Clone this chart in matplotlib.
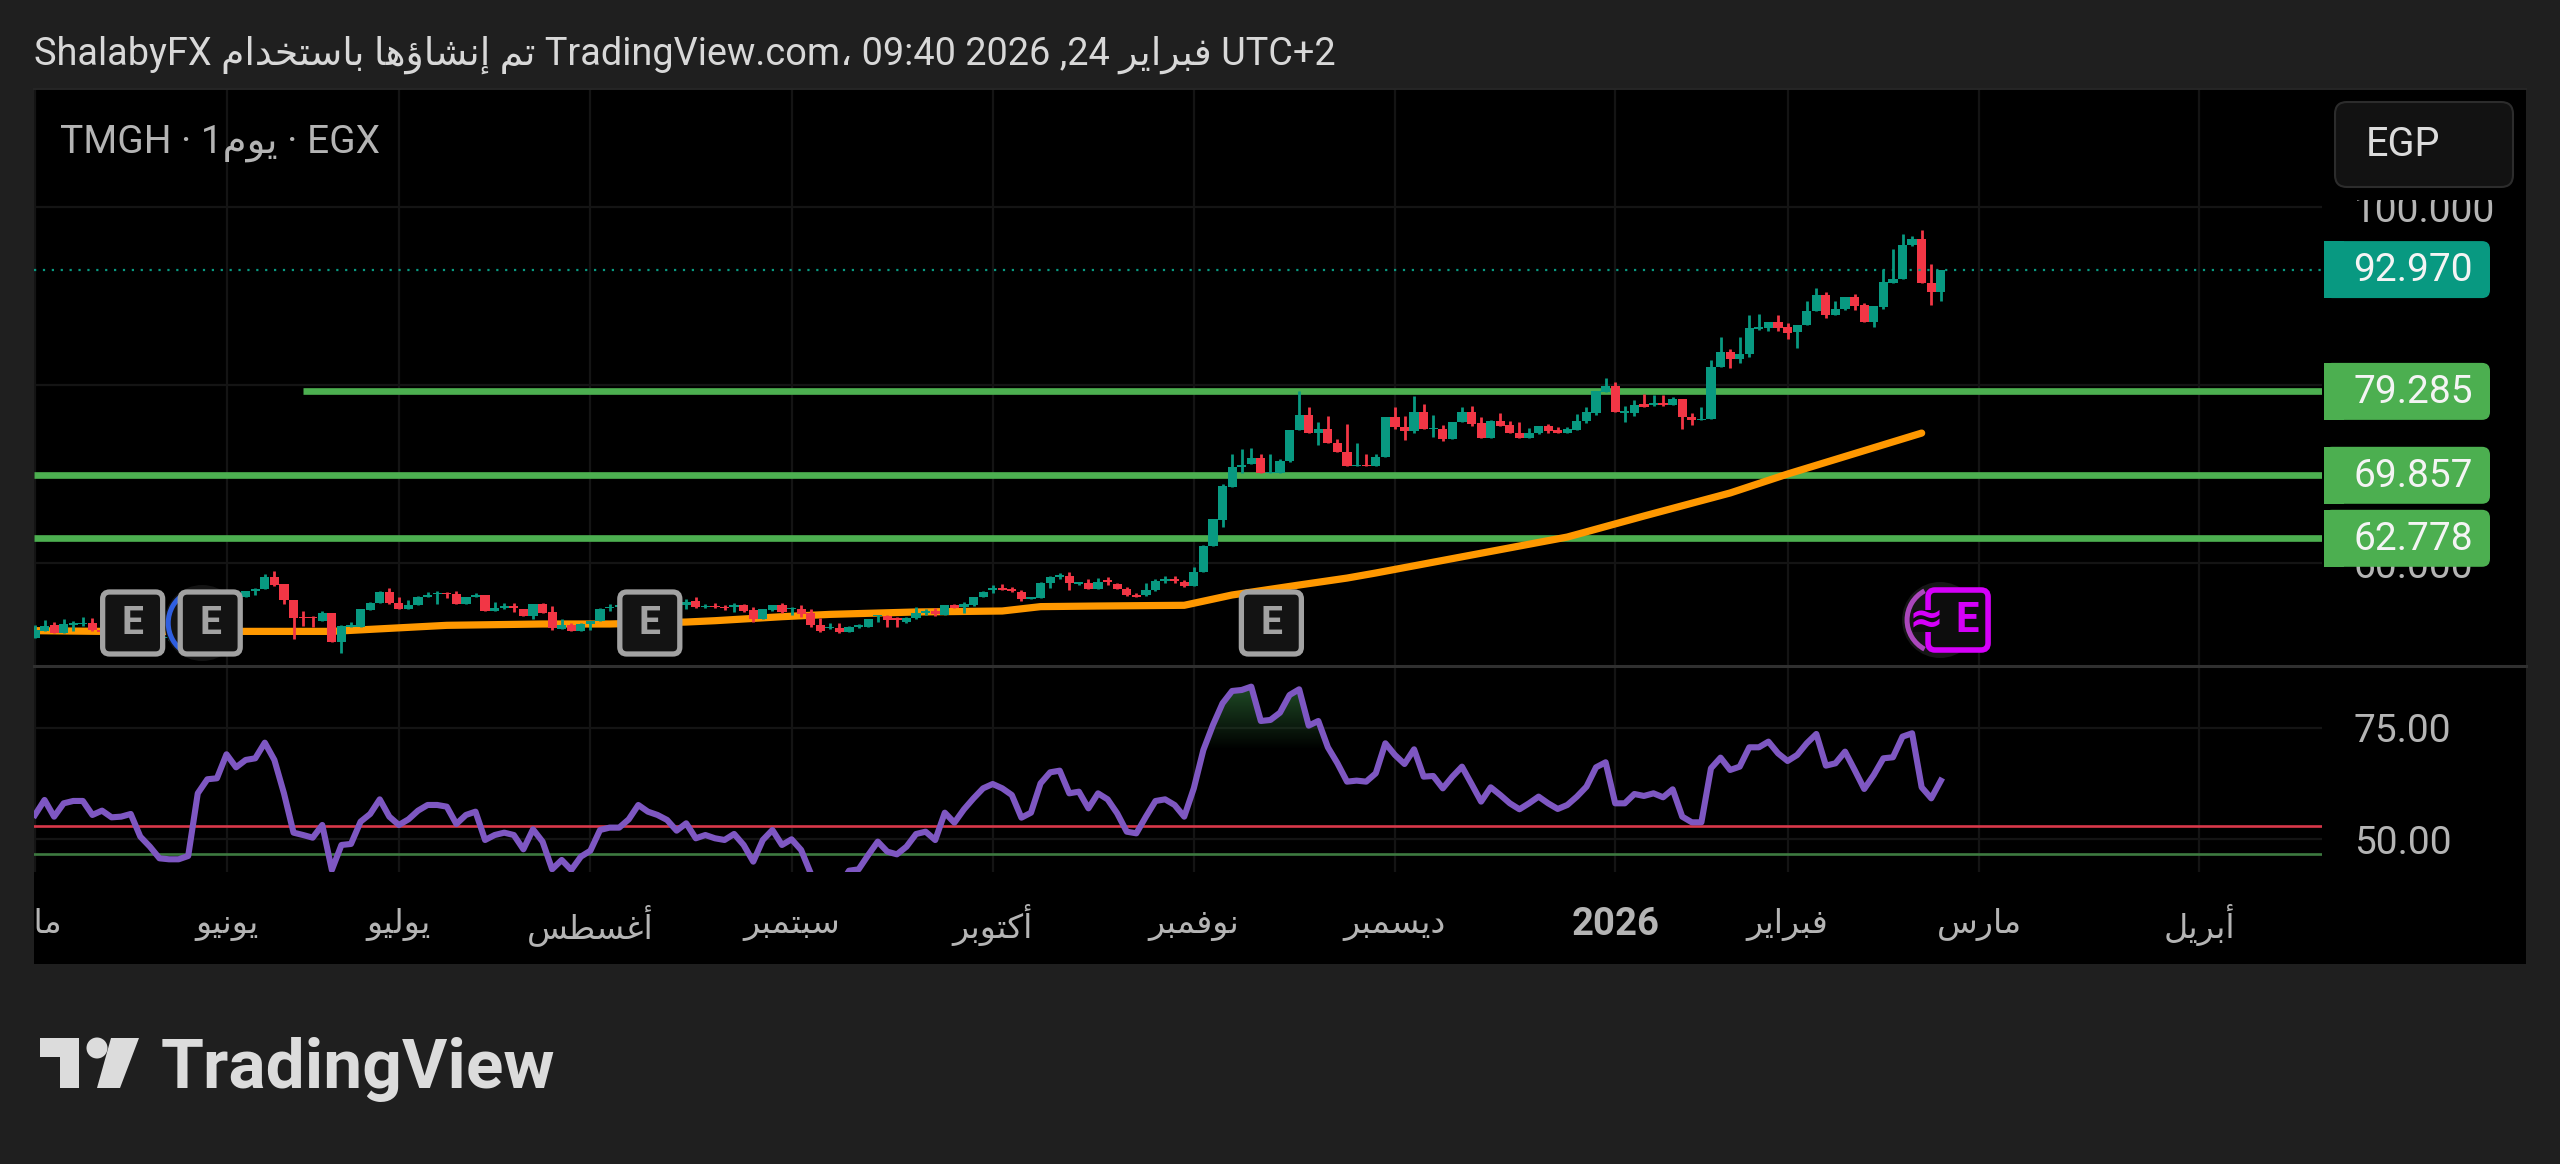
import matplotlib
matplotlib.use('Agg')
import matplotlib.pyplot as plt
from matplotlib.patches import Rectangle, FancyBboxPatch, Arc, Circle, Polygon
import numpy as np

plt.rcParams['font.family'] = ['Roboto', 'DejaVu Sans']

W, H = 2560, 1164
BG = '#1f1f1f'
UP = '#089981'
DOWN = '#F23645'
LEVEL = '#4CAF50'
GRID = '#141414'
AXIS_TXT = '#b4b4b4'

opens = [
    51.54, 52.40, 53.04, 52.17, 52.99, 53.15, 53.30, 52.50, 52.20, 52.00,
    51.70, 51.60, 51.70, 51.60, 51.60, 51.70, 52.60, 54.80, 55.40, 55.20,
    56.10, 56.40, 56.22, 56.89, 57.04, 58.47, 57.64, 55.85, 53.97, 53.90,
    53.52, 54.35, 51.16, 52.85, 52.85, 54.72, 55.55, 56.78, 55.47, 54.83,
    55.28, 56.22, 56.56, 56.67, 56.48, 55.40, 56.22, 56.37, 54.57, 54.98,
    55.17, 54.80, 54.05, 55.40, 54.53, 52.55, 53.04, 52.40, 53.15, 53.52,
    54.91, 55.10, 55.30, 55.20, 55.40, 55.10, 55.40, 55.60, 55.28, 55.77,
    55.02, 55.17, 55.10, 55.10, 55.25, 54.72, 53.75, 54.72, 55.32, 54.80,
    54.87, 54.35, 53.04, 52.70, 52.66, 52.25, 52.85, 52.85, 54.01, 54.05,
    53.79, 53.41, 53.79, 54.35, 54.61, 54.20, 55.32, 55.02, 55.28, 56.15,
    56.97, 57.19, 57.12, 56.78, 55.99, 56.07, 57.72, 58.39, 58.58, 57.64,
    57.72, 57.12, 58.09, 57.64, 57.12, 56.44, 56.37, 56.97, 57.98, 58.17,
    57.87, 57.42, 59.03, 61.91, 64.83, 68.58, 70.75, 71.13, 71.76, 70.08,
    70.15, 71.50, 74.95, 76.63, 74.57, 75.06, 73.45, 72.47, 70.90, 71.01,
    70.90, 71.87, 76.37, 75.32, 74.87, 77.01, 75.02, 75.06, 73.90, 75.88,
    77.01, 75.69, 74.05, 75.99, 75.51, 74.65, 74.05, 74.57, 75.43, 74.95,
    74.57, 74.95, 75.96, 76.89, 79.21, 79.89, 76.82, 76.89, 77.87, 77.75,
    78.02, 77.75, 78.47, 76.44, 76.07, 76.15, 81.99, 83.67, 82.89, 83.49,
    86.33, 86.44, 87.12, 86.48, 85.92, 86.71, 88.35, 90.15, 87.90, 88.50,
    89.93, 88.95, 87.12, 88.73, 91.50, 91.87, 95.69, 96.41, 91.50, 90.41,
]
highs = [
    53.04, 53.60, 53.41, 53.67, 53.52, 53.90, 53.79, 52.80, 52.50, 52.30,
    52.00, 52.00, 51.90, 51.90, 51.95, 52.80, 55.00, 55.70, 55.60, 56.30,
    56.60, 56.80, 56.89, 57.16, 58.77, 59.14, 57.64, 55.85, 54.65, 54.05,
    54.65, 54.35, 53.04, 53.41, 54.80, 55.66, 56.89, 57.16, 56.22, 55.85,
    56.29, 56.78, 56.89, 56.78, 56.89, 56.22, 56.59, 56.44, 55.66, 55.47,
    55.55, 54.80, 55.40, 55.47, 55.17, 53.67, 53.30, 53.22, 53.52, 54.91,
    55.40, 55.60, 55.60, 55.70, 55.60, 55.70, 55.80, 55.90, 55.92, 56.22,
    55.40, 55.55, 55.32, 55.47, 55.40, 55.02, 54.80, 55.32, 55.55, 55.02,
    55.28, 54.80, 53.79, 53.30, 53.22, 52.92, 53.15, 53.75, 54.20, 54.12,
    53.90, 53.97, 55.02, 54.80, 54.91, 55.32, 55.40, 55.66, 56.22, 56.89,
    57.53, 57.64, 57.34, 56.97, 56.22, 57.90, 58.54, 58.92, 58.99, 57.90,
    58.17, 58.28, 58.39, 57.72, 57.27, 56.67, 57.72, 58.17, 58.54, 58.54,
    58.09, 59.51, 62.00, 64.91, 68.88, 72.25, 72.77, 72.89, 72.25, 72.21,
    71.65, 74.95, 79.36, 77.49, 75.88, 76.52, 73.90, 75.58, 73.45, 72.25,
    72.25, 76.44, 77.49, 76.52, 78.77, 77.87, 76.63, 75.47, 75.88, 77.49,
    77.64, 76.37, 76.07, 76.89, 75.99, 75.88, 75.17, 75.43, 75.62, 75.32,
    75.24, 76.74, 77.49, 79.36, 80.82, 80.30, 77.64, 78.32, 78.99, 78.88,
    78.88, 78.62, 78.47, 76.89, 77.57, 82.81, 85.43, 84.01, 85.36, 87.87,
    87.98, 87.12, 87.90, 86.93, 86.74, 89.48, 90.94, 90.49, 89.44, 89.93,
    90.23, 89.25, 88.88, 93.00, 95.28, 96.97, 96.78, 97.42, 93.56, 92.97,
]
lows = [
    51.54, 52.40, 52.17, 52.17, 52.40, 52.92, 52.40, 51.90, 51.80, 51.50,
    51.40, 51.40, 51.40, 51.40, 51.40, 51.50, 52.40, 54.60, 55.00, 55.00,
    55.90, 56.20, 56.22, 56.41, 57.04, 57.42, 55.40, 51.50, 52.92, 52.85,
    53.52, 51.16, 49.93, 52.85, 52.85, 54.72, 55.55, 55.40, 54.80, 54.83,
    55.28, 56.22, 55.40, 56.03, 55.40, 55.40, 56.15, 54.57, 54.57, 54.87,
    54.50, 54.05, 53.75, 54.42, 52.47, 52.55, 52.33, 52.40, 52.47, 53.52,
    54.65, 54.90, 55.00, 55.00, 54.90, 54.90, 55.20, 55.10, 54.80, 54.91,
    54.95, 54.91, 54.72, 54.53, 54.53, 53.41, 53.67, 54.65, 54.42, 54.16,
    53.90, 52.77, 52.21, 52.55, 52.17, 52.25, 52.66, 52.85, 53.37, 52.85,
    52.85, 53.22, 53.67, 54.16, 54.05, 54.20, 54.91, 54.42, 55.17, 56.15,
    56.67, 56.97, 56.74, 55.70, 55.92, 56.07, 57.23, 58.17, 56.97, 57.49,
    57.12, 57.12, 57.49, 57.04, 56.29, 56.15, 56.29, 56.89, 57.72, 57.79,
    57.27, 57.42, 59.03, 61.91, 64.01, 68.58, 70.15, 71.13, 70.08, 70.08,
    70.15, 71.35, 74.95, 74.57, 73.26, 73.45, 72.47, 70.90, 70.90, 70.90,
    70.90, 71.87, 75.02, 73.82, 74.65, 75.06, 74.20, 73.75, 73.90, 75.88,
    75.39, 74.05, 74.05, 75.39, 74.57, 74.05, 74.05, 74.50, 74.57, 74.57,
    74.57, 74.95, 75.77, 76.63, 79.21, 76.93, 75.88, 76.52, 77.57, 77.64,
    77.64, 77.75, 75.02, 75.51, 76.07, 76.15, 81.99, 81.87, 82.44, 83.11,
    86.18, 86.11, 86.11, 85.21, 84.12, 86.71, 88.35, 87.53, 87.90, 88.43,
    88.43, 87.04, 86.56, 88.50, 91.50, 91.87, 95.62, 91.50, 88.99, 89.48,
]
closes = [
    52.47, 52.92, 52.17, 53.11, 53.22, 53.30, 52.47, 52.20, 52.00, 51.70,
    51.60, 51.70, 51.60, 51.60, 51.70, 52.60, 54.80, 55.40, 55.20, 56.10,
    56.40, 56.60, 56.89, 57.08, 58.47, 57.53, 55.85, 53.82, 53.79, 53.79,
    54.35, 51.16, 52.92, 53.00, 54.80, 55.55, 56.78, 55.47, 54.80, 55.28,
    56.22, 56.41, 56.67, 56.48, 55.40, 56.15, 56.44, 54.57, 54.91, 55.17,
    54.95, 54.05, 55.40, 54.42, 52.66, 53.04, 52.33, 53.15, 53.52, 54.80,
    55.10, 55.30, 55.20, 55.40, 55.10, 55.40, 55.60, 55.30, 55.66, 55.02,
    55.17, 55.02, 54.95, 55.28, 54.65, 53.67, 54.80, 55.32, 54.53, 54.95,
    54.27, 53.04, 52.40, 52.85, 52.25, 52.85, 53.07, 53.75, 54.16, 53.60,
    53.60, 53.86, 54.35, 54.61, 54.27, 55.32, 54.91, 55.40, 56.15, 56.78,
    57.23, 56.97, 56.86, 55.92, 56.18, 57.79, 58.47, 58.62, 57.72, 57.83,
    57.12, 57.87, 57.87, 57.04, 56.41, 56.22, 56.97, 57.98, 58.17, 57.98,
    57.42, 59.03, 61.91, 64.91, 68.65, 70.75, 71.01, 71.76, 70.08, 70.23,
    71.50, 74.95, 76.63, 74.57, 75.06, 73.45, 72.47, 70.90, 71.01, 70.90,
    71.87, 76.37, 75.24, 74.79, 77.01, 75.06, 75.17, 73.90, 75.88, 77.01,
    75.62, 74.05, 75.99, 75.39, 74.57, 74.05, 74.57, 75.43, 74.87, 74.65,
    75.02, 75.99, 77.01, 79.29, 79.89, 76.93, 77.04, 77.75, 77.57, 78.02,
    77.79, 78.47, 76.44, 76.07, 76.18, 82.06, 83.71, 82.96, 83.49, 86.37,
    86.56, 87.12, 86.37, 85.88, 86.74, 88.35, 90.15, 87.87, 88.50, 89.93,
    88.88, 87.12, 88.88, 91.54, 91.87, 95.69, 96.41, 91.50, 90.41, 92.97,
]

# moving average, read at the corners of the line
ma_bars = [0, 7, 22, 31, 43, 53, 60, 68, 71, 78, 83, 92, 101, 105, 111, 120,
           125, 132, 137, 140, 160, 168, 177, 183, 197]
ma_vals = [52.40, 52.32, 52.32, 52.32, 53.00, 53.15, 53.15, 53.37, 53.52, 53.97,
           54.23, 54.50, 54.61, 55.10, 55.17, 55.25, 56.41, 57.53, 58.31, 58.88,
           62.92, 65.28, 67.87, 70.00, 74.60]

rsi = [
    55.50, 58.86, 55.12, 58.11, 58.64, 58.64, 55.50, 56.47, 54.97, 55.12,
    55.72, 50.64, 48.40, 45.78, 45.56, 45.56, 46.30, 60.35, 63.50, 63.72,
    69.10, 66.18, 67.83, 68.20, 71.71, 67.83, 60.35, 51.53, 51.00, 50.41,
    53.25, 43.17, 48.77, 49.00, 54.00, 55.72, 59.00, 55.12, 53.25, 54.52,
    56.47, 57.74, 57.74, 57.36, 53.48, 55.50, 56.24, 49.89, 51.00, 51.53,
    51.00, 47.80, 52.28, 49.52, 43.32, 45.41, 43.17, 46.15, 47.50, 52.13,
    52.66, 52.66, 54.52, 57.74, 56.24, 55.50, 54.38, 51.98, 53.63, 50.27,
    51.00, 50.27, 49.89, 51.24, 48.77, 45.03, 49.89, 52.13, 48.77, 50.04,
    47.65, 42.40, 39.40, 38.00, 39.40, 43.00, 43.30, 46.50, 49.52, 47.27,
    46.67, 48.39, 51.23, 51.75, 49.88, 56.01, 53.77, 56.76, 59.23, 61.47,
    62.44, 61.47, 59.97, 54.89, 56.01, 62.59, 65.06, 65.43, 60.35, 60.72,
    56.98, 60.35, 59.00, 55.86, 51.75, 51.38, 55.12, 58.63, 59.00, 57.73,
    55.12, 61.47, 70.07, 75.68, 80.53, 83.30, 83.52, 84.27, 76.57, 76.80,
    78.44, 82.40, 83.67, 75.53, 76.57, 70.67, 67.08, 62.97, 63.20, 62.97,
    64.84, 71.57, 68.95, 66.93, 70.22, 64.09, 64.24, 61.47, 64.09, 66.33,
    62.45, 58.49, 61.70, 59.98, 58.11, 56.77, 58.11, 59.61, 58.11, 56.84,
    57.74, 59.61, 61.85, 66.18, 67.31, 58.11, 58.11, 60.20, 59.76, 60.35,
    59.46, 61.25, 55.12, 53.85, 53.85, 65.96, 68.35, 65.59, 66.33, 70.67,
    70.67, 71.94, 69.32, 67.60, 68.95, 71.57, 73.66, 66.56, 67.08, 69.70,
    65.59, 61.33, 64.47, 68.20, 68.43, 73.06, 73.81, 61.70, 59.23, 63.19,
]

level_vals = [79.285, 69.857, 62.778]
level_starts = [28, None, None]
last_price = 92.97
price_ticks = [60, 80, 100]
rsi_ticks = [50, 75]
rsi_upper = 53.1
rsi_lower = 46.75
earnings_bars = [10.2, 18.3, 64.2, 129.1]
next_earnings_bar = 200.8

month_bars = [0, 20, 38, 58, 79, 100, 121, 142, 165, 183, 203, 226]
month_names = ['مايو', 'يونيو', 'يوليو', 'أغسطس', 'سبتمبر', 'أكتوبر', 'نوفمبر',
               'ديسمبر', '2026', 'فبراير', 'مارس', 'أبريل']

# matplotlib does not shape arabic, so map to presentation forms in visual order
FORMS = {
    'ا': (0xFE8D, 0xFE8E), 'أ': (0xFE83, 0xFE84), 'إ': (0xFE87, 0xFE88),
    'د': (0xFEA9, 0xFEAA), 'ر': (0xFEAD, 0xFEAE), 'و': (0xFEED, 0xFEEE),
    'ؤ': (0xFE85, 0xFE86),
    'ب': (0xFE8F, 0xFE90, 0xFE91, 0xFE92), 'ت': (0xFE95, 0xFE96, 0xFE97, 0xFE98),
    'خ': (0xFEA5, 0xFEA6, 0xFEA7, 0xFEA8), 'س': (0xFEB1, 0xFEB2, 0xFEB3, 0xFEB4),
    'ش': (0xFEB5, 0xFEB6, 0xFEB7, 0xFEB8), 'ط': (0xFEC1, 0xFEC2, 0xFEC3, 0xFEC4),
    'غ': (0xFECD, 0xFECE, 0xFECF, 0xFED0), 'ف': (0xFED1, 0xFED2, 0xFED3, 0xFED4),
    'ك': (0xFED9, 0xFEDA, 0xFEDB, 0xFEDC), 'ل': (0xFEDD, 0xFEDE, 0xFEDF, 0xFEE0),
    'م': (0xFEE1, 0xFEE2, 0xFEE3, 0xFEE4), 'ن': (0xFEE5, 0xFEE6, 0xFEE7, 0xFEE8),
    'ه': (0xFEE9, 0xFEEA, 0xFEEB, 0xFEEC), 'ي': (0xFEF1, 0xFEF2, 0xFEF3, 0xFEF4),
}


def ar(word):
    if not all(c in FORMS for c in word):
        return word
    out = []
    for k, c in enumerate(word):
        forms = FORMS[c]
        prev_joins = k > 0 and len(FORMS[word[k - 1]]) == 4
        next_joins = len(forms) == 4 and k < len(word) - 1
        if prev_joins and next_joins:
            out.append(chr(forms[3]))
        elif next_joins:
            out.append(chr(forms[2]))
        elif prev_joins:
            out.append(chr(forms[1]))
        else:
            out.append(chr(forms[0]))
    return ''.join(reversed(out))


def px_axes(x0, y0, x1, y1, **kw):
    return fig.add_axes([x0 / W, 1 - y1 / H, (x1 - x0) / W, (y1 - y0) / H], **kw)


fig = plt.figure(figsize=(W / 100, H / 100), dpi=100, facecolor=BG)
fig.add_artist(Rectangle((34 / W, 1 - 964 / H), (2526 - 34) / W, (964 - 89) / H,
                         transform=fig.transFigure, fc='black', ec='none', zorder=-5))

ax = px_axes(34, 89, 2322, 666, facecolor='black', zorder=1)
ax2 = px_axes(34, 668, 2322, 872, facecolor='black', zorder=1)

x_bars = np.arange(len(closes))
xlim = (-0.10, 238.8)

for a in (ax, ax2):
    a.set_xlim(xlim)
    for s in a.spines.values():
        s.set_visible(False)
    a.set_xticks(month_bars)
    a.grid(True, color=GRID, lw=1.6, zorder=0)
    a.set_axisbelow(True)
    a.yaxis.tick_right()

# price pane
ax.set_ylim(48.43, 113.26)
ax.set_yticks(price_ticks)
ax.set_yticklabels(['%.3f' % v for v in price_ticks])
ax.tick_params(axis='y', length=0, pad=23, labelsize=28, labelcolor=AXIS_TXT)
ax.tick_params(axis='x', length=0, labelbottom=False)

for val, start in zip(level_vals, level_starts):
    ax.hlines(val, xlim[0] if start is None else start, xlim[1], color=LEVEL, lw=4.8, zorder=2)
ax.plot(ma_bars, ma_vals, color='#FF9800', lw=5.2, zorder=3, solid_capstyle='round',
        solid_joinstyle='round')

o = np.array(opens)
c = np.array(closes)
colors = [UP if b >= a else DOWN for a, b in zip(o, c)]
ax.vlines(x_bars, lows, highs, colors=colors, lw=2.0, zorder=4)
ax.bar(x_bars, np.abs(c - o), bottom=np.minimum(o, c), width=0.96, color=colors, lw=0, zorder=5)
ax.axhline(last_price, color=UP, lw=1.6, ls=(0, (1, 3.0)), zorder=6)

# rsi pane
ax2.set_ylim(42.71, 88.45)
ax2.set_yticks(rsi_ticks)
ax2.set_yticklabels(['%.2f' % v for v in rsi_ticks])
ax2.tick_params(axis='y', length=0, pad=23, labelsize=28, labelcolor=AXIS_TXT)
ax2.axhline(rsi_upper, color='#d8384a', lw=1.9, zorder=3)
ax2.axhline(rsi_lower, color='#3d7a40', lw=1.9, zorder=3)

rsi_arr = np.array(rsi)
region = (x_bars >= 121) & (x_bars <= 136)
poly = ax2.fill_between(x_bars, 70, rsi_arr, where=region & (rsi_arr >= 70), interpolate=True,
                        color='none', lw=0)
shade = np.zeros((64, 2, 4))
shade[..., 0] = 0.13
shade[..., 1] = 0.31
shade[..., 2] = 0.16
shade[..., 3] = np.linspace(1, 0, 64)[:, None]
im = ax2.imshow(shade, extent=(121, 136, 70, 85), origin='upper', aspect='auto', zorder=2)
im.set_clip_path(poly.get_paths()[0], transform=ax2.transData)
ax2.set_xlim(xlim)
ax2.set_ylim(42.71, 88.45)
ax2.plot(x_bars, rsi, color='#7E57C2', lw=4.4, zorder=4, solid_joinstyle='round')

ax2.set_xticks(month_bars)
ax2.set_xticklabels([ar(m) for m in month_names])
ax2.tick_params(axis='x', length=0, pad=38, labelsize=24, labelcolor=AXIS_TXT)
for lab, m in zip(ax2.get_xticklabels(), month_names):
    lab.set_va('center')
    if m == '2026':
        lab.set_fontweight('bold')
        lab.set_fontsize(27.5)

# overlay in image pixels for the chrome around the chart
ov = fig.add_axes([0, 0, 1, 1], zorder=5)
ov.set_xlim(0, W)
ov.set_ylim(H, 0)
ov.axis('off')


def bar_px(i):
    return ax.transData.transform((i, 0))[0]


def price_px(p):
    return H - ax.transData.transform((0, p))[1]


ov.add_patch(Rectangle((0, 89), 34, 875, fc=BG, ec='none', zorder=1))
ov.plot([34, 2526], [666, 666], color='#303030', lw=2.2, zorder=1)
ov.plot([34, 2526], [89, 89], color='#262626', lw=1.4, zorder=1)

ov.text(34, 55, f"ShalabyFX {ar('باستخدام')} {ar('إنشاؤها')} {ar('تم')} TradingView.com، 09:40 2026 ,24 "
        f"{ar('فبراير')} UTC+2", color='#d8d8d8', fontsize=27.3, va='center', ha='left')
ov.text(60, 143, f"TMGH · 1{ar('يوم')} · EGX", color=AXIS_TXT, fontsize=28, va='center', ha='left')

# EGP box hides the top of the 100.000 label
ov.add_patch(Rectangle((2335, 187), 178, 13, fc='black', ec='none', zorder=2))
ov.add_patch(FancyBboxPatch((2347, 114), 154, 61, boxstyle='round,pad=12,rounding_size=12',
                            fc='#121212', ec='#2c2c2c', lw=1.5, zorder=3))
ov.text(2366, 144, 'EGP', color='#dcdcdc', fontsize=28.5, va='center', ha='left', zorder=4)


def price_tag(val, color):
    yc = price_px(val)
    ov.add_patch(FancyBboxPatch((2332, yc - 20.5), 150, 41, boxstyle='round,pad=8,rounding_size=8',
                                fc=color, ec='none', zorder=3))
    ov.add_patch(Rectangle((2324, yc - 28.5), 20, 57, fc=color, ec='none', zorder=3))
    ov.text(2413, yc + 1, '%.3f' % val, color='#f4f4f4', fontsize=28, va='center', ha='center', zorder=4)


price_tag(last_price, UP)
for val in level_vals:
    price_tag(val, LEVEL)


def earnings_box(xc, edge, txt_color):
    ov.add_patch(FancyBboxPatch((xc - 23, 599), 46, 48, boxstyle='round,pad=7,rounding_size=7',
                                fc='#131313', ec=edge, lw=3.8, zorder=4))
    ov.text(xc, 624, 'E', color=txt_color, fontsize=28, fontweight='bold', va='center', ha='center',
            zorder=5)


# dividend marker behind the second E
x_e2 = bar_px(earnings_bars[1])
ov.add_patch(Circle((x_e2 - 8, 623), 38, fc='#141414', ec='none', zorder=2))
ov.add_patch(Arc((x_e2 - 8, 623), 68, 68, theta1=120, theta2=240, color='#2f5fe0', lw=3.6, zorder=3))
for b in earnings_bars:
    earnings_box(bar_px(b), '#a2a2a2', '#a2a2a2')

x_e5 = bar_px(next_earnings_bar)
ov.add_patch(Circle((x_e5 - 18, 620), 38, fc='#161616', ec='none', zorder=2))
ov.add_patch(Arc((x_e5 - 18, 620), 66, 66, theta1=118, theta2=242, color='#ab47bc', lw=3.6, zorder=3))
ov.add_patch(FancyBboxPatch((x_e5 - 23, 597), 46, 46, boxstyle='round,pad=7,rounding_size=7',
                            fc='#0d0d0d', ec='#d500f9', lw=4.0, zorder=4))
ov.text(x_e5 + 9, 621, 'E', color='#d500f9', fontsize=30, fontweight='bold', va='center', ha='center', zorder=5)
ov.add_patch(Rectangle((x_e5 - 45, 610), 30, 22, fc='#0d0d0d', ec='none', zorder=5))
ov.text(x_e5 - 32, 620, '≈', color='#d500f9', fontsize=30, family='DejaVu Sans', fontweight='bold',
        va='center', ha='center', zorder=6)

# TradingView logo
LOGO = '#dcdcdc'
ov.add_patch(Polygon([(40, 1038), (79, 1038), (79, 1088), (60, 1088), (60, 1057), (40, 1057)], fc=LOGO, ec='none'))
ov.add_patch(Circle((97, 1048), 10.5, fc=LOGO, ec='none'))
ov.add_patch(Polygon([(111, 1038), (139, 1038), (120, 1088), (97, 1088)], fc=LOGO, ec='none'))
ov.text(161, 1088, 'TradingView', color=LOGO, fontsize=50, family='Roboto', fontweight='bold',
        va='baseline', ha='left')

fig.savefig('out.png', dpi=100, facecolor=BG)
